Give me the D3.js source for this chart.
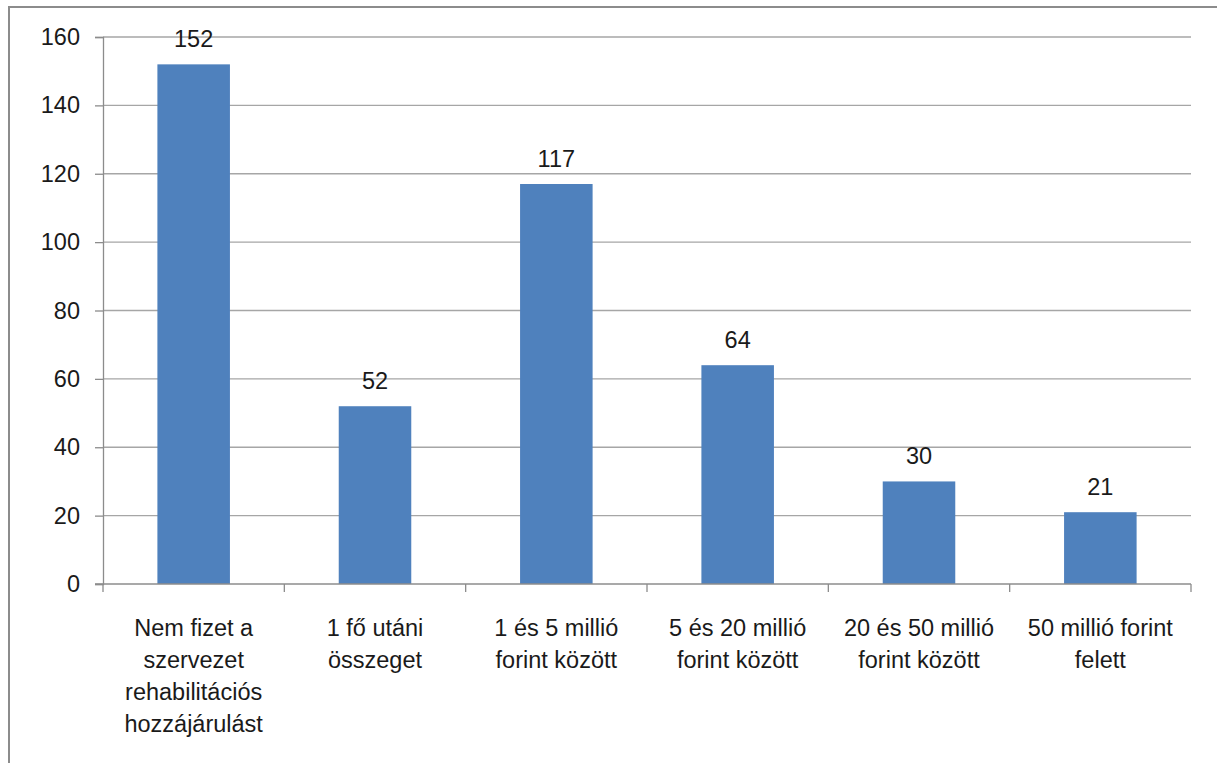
<!DOCTYPE html>
<html><head><meta charset="utf-8">
<script src="https://cdn.jsdelivr.net/npm/d3@7"></script>
<style>body{margin:0;background:#fff}svg{display:block}text{font-family:"Liberation Sans",Arial,sans-serif;fill:#1a1a1a}</style>
</head><body>
<svg id="c" width="1217" height="763"></svg>
<script>
const categories = [
  ["Nem fizet a","szervezet","rehabilitációs","hozzájárulást"],
  ["1 fő utáni","összeget"],
  ["1 és 5 millió","forint között"],
  ["5 és 20 millió","forint között"],
  ["20 és 50 millió","forint között"],
  ["50 millió forint","felett"]
];
const values = [152, 52, 117, 64, 30, 21];
const yTicks = [0, 20, 40, 60, 80, 100, 120, 140, 160];

const svg = d3.select("#c");
const W = 1217, H = 763;
const m = {left:103, right:1191, top:37, bottom:584};
const FS = 23.5;

// outer frame
svg.append("path").attr("d", `M9,${H} L9,7 L${W},7`).attr("fill","none")
  .attr("stroke","#8c8c8c").attr("stroke-width",2);

const x = d3.scaleBand().domain(d3.range(values.length)).range([m.left, m.right]).paddingInner(0.6).paddingOuter(0.3);
const xb = d3.scaleBand().domain(d3.range(values.length)).range([m.left, m.right]);
const y = d3.scaleLinear().domain([0,160]).range([m.bottom, m.top]);

// gridlines
svg.append("g").selectAll("line").data(yTicks.filter(d=>d>0)).join("line")
  .attr("x1", m.left).attr("x2", m.right)
  .attr("y1", d=>y(d)).attr("y2", d=>y(d))
  .attr("stroke","#a6a6a6").attr("stroke-width",1.3);

// y axis
const ya = svg.append("g").attr("transform",`translate(${m.left},0)`)
  .call(d3.axisLeft(y).tickValues(yTicks).tickSize(8).tickPadding(15));
ya.select(".domain").attr("stroke","#8c8c8c").attr("stroke-width",1.3);
ya.selectAll(".tick line").attr("stroke","#8c8c8c").attr("stroke-width",1.3);
ya.selectAll(".tick text").attr("font-size",FS).attr("fill","#1a1a1a")
  .style("font-family","'Liberation Sans',Arial,sans-serif");

// bars
svg.append("g").selectAll("rect").data(values).join("rect")
  .attr("x",(d,i)=>x(i)).attr("width",x.bandwidth())
  .attr("y",d=>y(d)).attr("height",d=>y(0)-y(d))
  .attr("fill","#4f81bd");

// x axis
svg.append("line").attr("x1",m.left-8).attr("x2",m.right).attr("y1",y(0)).attr("y2",y(0))
  .attr("stroke","#8c8c8c").attr("stroke-width",1.3);
const xt = d3.range(values.length+1).map(i => i<values.length ? xb(i) : xb(values.length-1)+xb.bandwidth());
svg.append("g").selectAll("line").data(xt).join("line")
  .attr("x1",d=>d).attr("x2",d=>d).attr("y1",y(0)).attr("y2",y(0)+8)
  .attr("stroke","#8c8c8c").attr("stroke-width",1.3);

// category labels
const lab = svg.append("g").selectAll("text").data(categories).join("text")
  .attr("text-anchor","middle").attr("font-size",FS)
  .attr("x",(d,i)=>xb(i)+xb.bandwidth()/2).attr("y",636);
lab.selectAll("tspan").data(d=>d).join("tspan")
  .attr("x",function(){return this.parentNode.getAttribute("x");})
  .attr("dy",(d,j)=>j===0?0:32).text(d=>d);

// value labels
svg.append("g").selectAll("text").data(values).join("text")
  .attr("text-anchor","middle").attr("font-size",FS)
  .attr("x",(d,i)=>x(i)+x.bandwidth()/2).attr("y",d=>y(d)-17).text(d=>d);
</script>
</body></html>
